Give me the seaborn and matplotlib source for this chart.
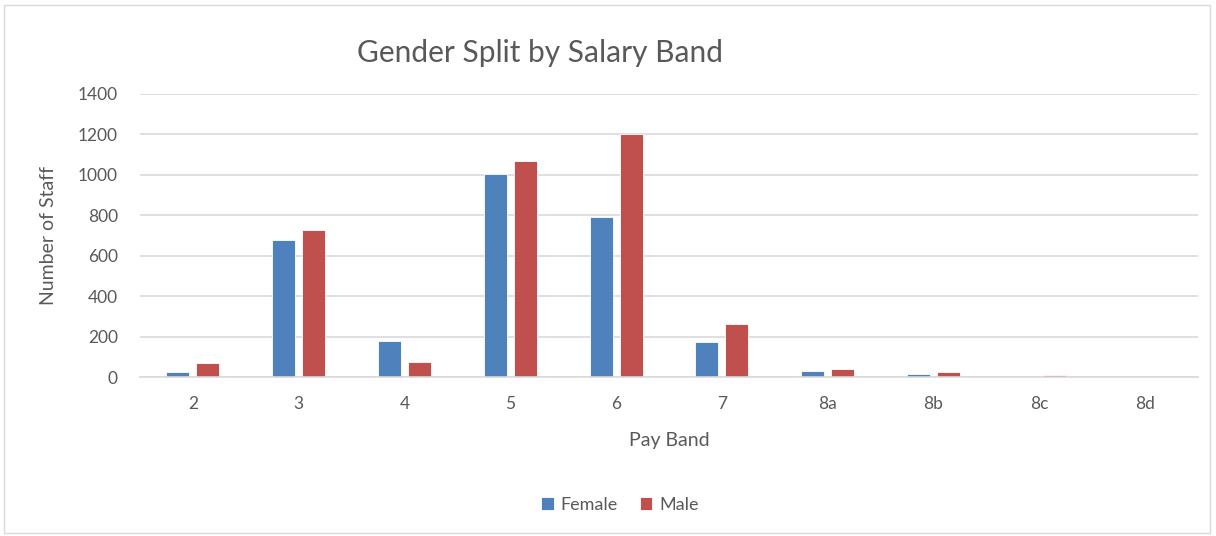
import pandas as pd
import matplotlib.pyplot as plt
import seaborn as sns
from matplotlib.patches import Rectangle

# ── Data ──────────────────────────────────────────────────────────────────────
bands  = ["2", "3", "4", "5", "6", "7", "8a", "8b", "8c", "8d"]
female = [27, 680, 177, 1004, 790, 172, 32, 15, 0, 0]
male   = [67, 727, 73, 1067, 1200, 260, 38, 27, 9, 0]

BLUE = "#4F81BD"
RED  = "#C0504D"
GREY_TXT = "#595959"

df = pd.DataFrame({
    "band":   bands * 2,
    "count":  female + male,
    "gender": ["Female"] * len(bands) + ["Male"] * len(bands),
})

sns.set_theme(style="white")
plt.rcParams["font.family"] = ["Lato", "DejaVu Sans"]

fig = plt.figure(figsize=(12.16, 5.36), dpi=100)
ax = fig.add_axes([140 / 1216, 1 - 377 / 536, (1198 - 140) / 1216, (377 - 94) / 536])

sns.barplot(
    data=df, x="band", y="count", hue="gender", order=bands,
    palette=[BLUE, RED], saturation=1, width=0.567, gap=0.233,
    edgecolor="white", linewidth=0.6, ax=ax,
)

ax.set_ylim(0, 1400)
ax.set_yticks(range(0, 1401, 200))
ax.set_xlim(-0.5, len(bands) - 0.5)
ax.yaxis.grid(True, color="#D9D9D9", linewidth=1.2)
ax.set_axisbelow(True)
for side in ["top", "right", "left"]:
    ax.spines[side].set_visible(False)
ax.spines["bottom"].set_color("#D9D9D9")
ax.spines["bottom"].set_linewidth(1.2)
ax.tick_params(axis="both", length=0, labelsize=12.5, colors=GREY_TXT)
ax.tick_params(axis="y", pad=16)
ax.tick_params(axis="x", pad=14)

ax.set_xlabel("Pay Band", fontsize=14, color=GREY_TXT, labelpad=14)
ax.set_ylabel("Number of Staff", fontsize=14, color=GREY_TXT, labelpad=15)

fig.text(540 / 1216, 1 - 53 / 536, "Gender Split by Salary Band",
         fontsize=21.5, color=GREY_TXT, ha="center", va="center")

ax.legend_.remove()
handles, labels = ax.get_legend_handles_labels()
fig.legend(handles, labels, loc="center", bbox_to_anchor=(620 / 1216, 1 - 505 / 536),
           ncol=2, frameon=False, fontsize=13, labelcolor=GREY_TXT,
           handlelength=0.7, handleheight=0.7, handletextpad=0.4, columnspacing=1.2)

fig.patches.append(Rectangle((0.003, 0.006), 0.992, 0.985, transform=fig.transFigure,
                             fill=False, edgecolor="#D9D9D9", linewidth=1))

fig.savefig("out.png", dpi=100)
